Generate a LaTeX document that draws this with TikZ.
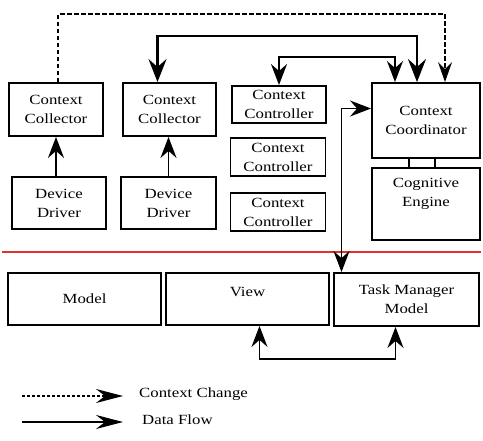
\documentclass[tikz,border=0pt]{standalone}
\usepackage{fontspec}
\setmainfont{Liberation Serif}[FakeStretch=1.2]
\usetikzlibrary{arrows.meta, calc}
\definecolor{splitcolor}{RGB}{225,50,50}

\begin{document}
\begin{tikzpicture}[
    x=1pt, y=-1pt,
    font=\fontsize{14pt}{19pt}\selectfont,
    >={Stealth[length=21pt, width=16pt, inset=7pt]},
    block/.style={draw, line width=1.9pt, align=center, inner sep=0pt},
    flow/.style={->, line width=1.6pt},
    both/.style={<->, line width=1.6pt},
    change/.style={->, line width=1.4pt, dash pattern=on 4.5pt off 2.5pt}
]
    \useasboundingbox (0,0) rectangle (483,441);

    % sensing side
    \node[block, minimum width=94pt, minimum height=53pt] (collA) at (56,109.5) {Context\\Collector};
    \node[block, minimum width=93pt, minimum height=53pt] (collB) at (169.5,109.5) {Context\\Collector};
    \node[block, minimum width=94pt, minimum height=52pt] (drvA) at (59,203) {Device\\Driver};
    \node[block, minimum width=95pt, minimum height=52pt] (drvB) at (168.5,203) {Device\\Driver};

    \node[block, minimum width=94pt, minimum height=37pt] (ctrlA) at (279,104.5) {Context\\Controller};
    \node[block, minimum width=95pt, minimum height=38pt] (ctrlB) at (278,157) {Context\\Controller};
    \node[block, minimum width=95pt, minimum height=38pt] (ctrlC) at (278,212) {Context\\Controller};

    \node[block, minimum width=108pt, minimum height=75pt] (coord) at (426,120.5) {Context\\Coordinator};
    \node[block, minimum width=108pt, minimum height=72pt] (engine) at (426,204) {Cognitive\\Engine\\[5pt]};

    % application side
    \draw[splitcolor, line width=1.5pt] (2,252) -- (481,252);
    \node[block, minimum width=153pt, minimum height=52pt] (model) at (84.5,299) {Model};
    \node[block, minimum width=163pt, minimum height=52pt] (view) at (247.5,299) {View\\[-4pt]};
    \node[block, minimum width=145pt, minimum height=53pt] (task) at (406.5,299.5) {Task Manager\\Model};

    \draw[flow] (collA.south |- drvA.north) -- (collA.south);
    \draw[flow] (drvB.north) -- (drvB.north |- collB.south);

    \draw[line width=1.2pt] ($(coord.south)+(-17,0)$) -- ($(engine.north)+(-17,0)$);
    \draw[line width=1.2pt] ($(coord.south)+(9,0)$) -- ($(engine.north)+(9,0)$);

    \draw[change, -{Stealth[length=20pt, width=14pt, inset=7pt]}] ($(collA.north)+(2,0)$) -- ++(0,-68) -| ($(coord.north)+(19,0)$);
    \draw[both, line width=2.6pt, {Stealth[length=23pt, width=18pt, inset=8pt]}-{Stealth[length=23pt, width=18pt, inset=8pt]}] ($(collB.north)+(-12,0)$) -- ++(0,-46) -| ($(coord.north)+(-9,0)$);
    \draw[both, line width=2pt] (ctrlA.north) -- ++(0,-28) -| ($(coord.north)+(-31,0)$);
    \draw[both] ($(task.north)+(-65,0)$) |- ($(coord.west)+(0,-12)$);
    \draw[both] ($(view.south)+(12,0)$) -- ++(0,33) -| ($(task.south)+(-11,0)$);

    % legend
    \coordinate (chgA) at (22,396);
    \coordinate (chgB) at (123,396);
    \coordinate (flowA) at (22,422);
    \coordinate (flowB) at (123,422);
    \draw[change, line width=1.2pt, dash pattern=on 3pt off 2pt, -{Stealth[length=27pt, width=14pt, inset=9pt]}] (chgA) -- (chgB);
    \draw[flow, line width=1.4pt, -{Stealth[length=27pt, width=14pt, inset=9pt]}] (flowA) -- (flowB);
    \node[anchor=west, inner sep=0pt] (chgtext) at (139,394) {Context Change};
    \node[anchor=west, inner sep=0pt] (flowtext) at (142,420) {Data Flow};
\end{tikzpicture}
\end{document}
